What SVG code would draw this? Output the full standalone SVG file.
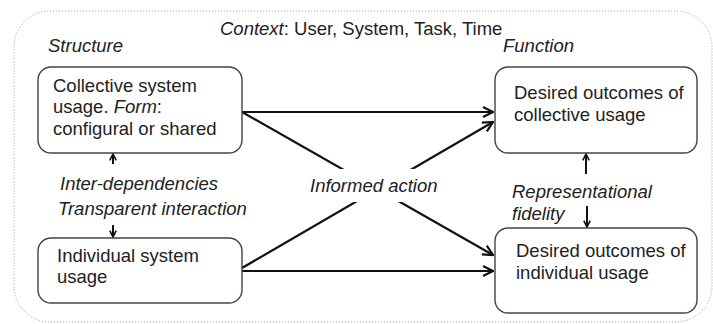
<svg xmlns="http://www.w3.org/2000/svg" width="713" height="324" viewBox="0 0 713 324">
<defs>
<style>
text{font-family:"Liberation Sans",Arial,sans-serif;font-size:18.5px;fill:#222}
.it{font-style:italic}
.box{fill:#fff;stroke:#444;stroke-width:1.4}
.con{stroke:#111;stroke-width:2.2;fill:none}
.sm{stroke:#111;stroke-width:2;fill:none}
</style>
<marker id="ah" markerUnits="userSpaceOnUse" viewBox="0 0 12 12" refX="11" refY="6" markerWidth="12" markerHeight="12" orient="auto">
<path d="M1,1 L11,6 L1,11" fill="none" stroke="#111" stroke-width="2.2"/>
</marker>
<marker id="as" markerUnits="userSpaceOnUse" viewBox="0 0 10 10" refX="9" refY="5" markerWidth="8" markerHeight="8" orient="auto">
<path d="M1,1 L9,5 L1,9" fill="none" stroke="#111" stroke-width="2"/>
</marker>
</defs>
<rect x="14" y="11" width="698" height="311" rx="36" fill="#fff" stroke="#999" stroke-width="1" stroke-dasharray="1 2"/>
<text x="220" y="35"><tspan class="it">Context</tspan>: User, System, Task, Time</text>
<text class="it" x="48" y="52">Structure</text>
<text class="it" x="503" y="52">Function</text>
<g id="connectors">
<line class="con" x1="242" y1="112" x2="493" y2="112" marker-end="url(#ah)"/>
<line class="con" x1="242" y1="112" x2="493" y2="255" marker-end="url(#ah)"/>
<line class="con" x1="242" y1="268" x2="493" y2="122" marker-end="url(#ah)"/>
<line class="con" x1="242" y1="271" x2="493" y2="271" marker-end="url(#ah)"/>
<line class="sm" x1="113" y1="164" x2="113" y2="154" marker-end="url(#as)"/>
<line class="sm" x1="113" y1="225" x2="113" y2="237" marker-end="url(#as)"/>
<line class="sm" x1="586" y1="174" x2="586" y2="154" marker-end="url(#as)"/>
<line class="sm" x1="587" y1="206" x2="587" y2="227" marker-end="url(#as)"/>
<rect x="300" y="169" width="150" height="33" fill="#fff"/>
<text class="it" x="310" y="192">Informed action</text>
<text class="it" x="60" y="190">Inter-dependencies</text>
<text class="it" x="58" y="215">Transparent interaction</text>
<text class="it" x="512" y="198">Representational</text>
<text class="it" x="512" y="220">fidelity</text>
</g>
<g id="collective">
<rect class="box" x="38" y="67" width="204" height="86" rx="13"/>
<text x="53" y="92">Collective system</text>
<text x="53" y="113">usage. <tspan class="it">Form</tspan>:</text>
<text x="53" y="135">configural or shared</text>
</g>
<g id="individual">
<rect class="box" x="38" y="238" width="204" height="65" rx="13"/>
<text x="57" y="262">Individual system</text>
<text x="57" y="283">usage</text>
</g>
<g id="out-collective">
<rect class="box" x="495" y="67" width="202" height="86" rx="13"/>
<text x="514" y="99">Desired outcomes of</text>
<text x="514" y="121">collective usage</text>
</g>
<g id="out-individual">
<rect class="box" x="495" y="228" width="202" height="85" rx="13"/>
<text x="516" y="257">Desired outcomes of</text>
<text x="516" y="279">individual usage</text>
</g>
</svg>
